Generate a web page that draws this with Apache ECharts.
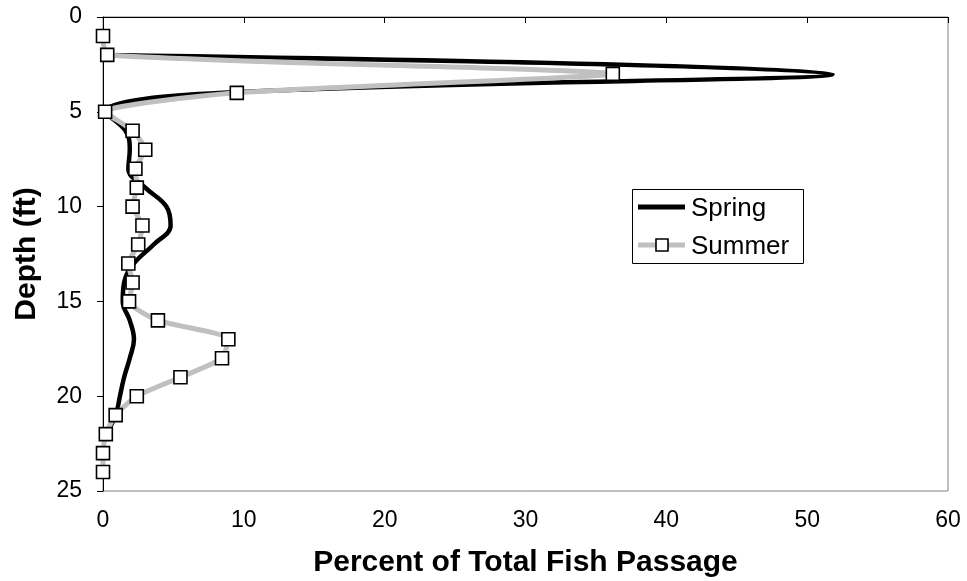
<!DOCTYPE html>
<html>
<head>
<meta charset="utf-8">
<script src="https://cdn.jsdelivr.net/npm/echarts@6/dist/echarts.min.js"></script>
<style>html,body{margin:0;padding:0;background:#fff}#c{width:967px;height:581px}</style>
</head>
<body>
<div id="c"></div>
<script>
var summerDepth = [1,2,3,4,5,6,7,8,9,10,11,12,13,14,15,16,17,18,19,20,21,22,23,24];
var summerPct = [0.0,0.3,36.2,9.5,0.15,2.1,3.0,2.3,2.4,2.1,2.8,2.5,1.8,2.1,1.85,3.9,8.9,8.45,5.5,2.4,0.9,0.2,0.0,0.0];
var springDepth = [2,3,4,5,6,7,8,9,10,11,12,13,14,15,16,17,18,19,20,21,22];
var springPct = [0.2,51.8,8.5,0.15,1.6,1.9,1.8,3.0,4.5,4.8,3.6,2.2,1.5,1.4,1.9,2.2,1.9,1.5,1.2,0.9,0.2];
var xTicks = [0,10,20,30,40,50,60];
var yTicks = [0,5,10,15,20,25];
var seriesNames = ['Spring', 'Summer'];

function pairs(xs, ys){ return xs.map(function(v,i){ return [v, ys[i]]; }); }

var chart = echarts.init(document.getElementById('c'));
var font = '"Liberation Sans", Arial, sans-serif';
chart.setOption({
  animation: false,
  textStyle: {fontFamily: font},
  grid: {left: 103, right: 19, top: 17, bottom: 90, show: true, borderColor: '#808080', borderWidth: 1,
         containLabel: false, outerBoundsMode: 'none'},
  xAxis: {
    type: 'value', min: xTicks[0], max: xTicks[xTicks.length-1], interval: 10,
    name: 'Percent of Total Fish Passage', nameLocation: 'middle', nameGap: 57,
    nameTextStyle: {fontSize: 30, fontWeight: 'bold', color: '#000', fontFamily: font},
    axisLine: {lineStyle: {color: '#000', width: 1}},
    axisTick: {show: true, inside: false, length: 6, lineStyle: {color: '#000'}},
    axisLabel: {fontSize: 23, color: '#000', margin: 18, fontFamily: font},
    splitLine: {show: false}
  },
  yAxis: {
    type: 'value', inverse: true, min: yTicks[0], max: yTicks[yTicks.length-1], interval: 5,
    name: 'Depth (ft)', nameLocation: 'middle', nameGap: 61, nameRotate: 90,
    nameTextStyle: {fontSize: 30, fontWeight: 'bold', color: '#000', fontFamily: font},
    axisLine: {show: true, lineStyle: {color: '#000', width: 1}},
    axisTick: {show: true, inside: false, length: 6, lineStyle: {color: '#000'}},
    axisLabel: {fontSize: 23, color: '#000', margin: 21, fontFamily: font},
    splitLine: {show: false}
  },
  graphic: [
    {type: 'rect', left: 632, top: 189, z: 100, shape: {width: 171, height: 74},
     style: {fill: '#fff', stroke: '#000', lineWidth: 1}},
    {type: 'line', z: 101, shape: {x1: 638, y1: 207, x2: 685, y2: 207},
     style: {stroke: '#000', lineWidth: 5}},
    {type: 'text', z: 101, left: 691, top: 196,
     style: {text: seriesNames[0], fontSize: 26, fill: '#000', fontFamily: font}},
    {type: 'line', z: 101, shape: {x1: 638, y1: 245, x2: 685, y2: 245},
     style: {stroke: '#c0c0c0', lineWidth: 5}},
    {type: 'rect', z: 102, shape: {x: 656, y: 239, width: 12, height: 12},
     style: {fill: '#fff', stroke: '#000', lineWidth: 1.6}},
    {type: 'text', z: 101, left: 691, top: 234,
     style: {text: seriesNames[1], fontSize: 26, fill: '#000', fontFamily: font}}
  ],
  series: [
    {
      name: seriesNames[1], type: 'line', data: pairs(summerPct, summerDepth), z: 3,
      smooth: 0.2,
      lineStyle: {color: '#c0c0c0', width: 5},
      itemStyle: {color: '#fff', borderColor: '#000', borderWidth: 1.6},
      symbol: 'rect', symbolSize: 13, showSymbol: true
    },
    {
      name: seriesNames[0], type: 'line', data: pairs(springPct, springDepth), z: 2,
      smooth: 0.4, symbol: 'none',
      lineStyle: {color: '#000', width: 4.5},
      itemStyle: {color: '#000'}
    }
  ]
});
</script>
</body>
</html>
